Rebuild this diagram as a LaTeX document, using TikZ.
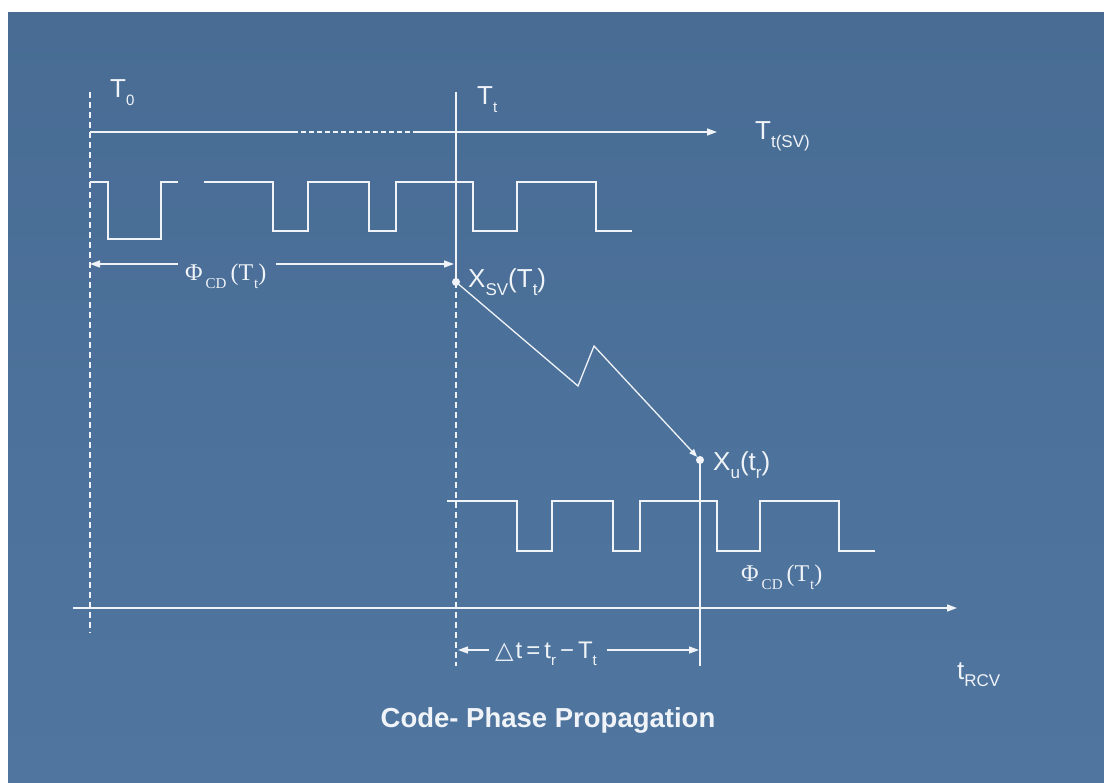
\documentclass[tikz,border=0pt]{standalone}
\usepackage{fontspec}
\setmainfont{Liberation Serif}
\setsansfont{Liberation Sans}
\newfontfamily\dejavu{DejaVu Sans}
\usetikzlibrary{arrows.meta}
\definecolor{bgtop}{RGB}{72,108,148}
\definecolor{bgmid}{RGB}{88,127,169}
\definecolor{bgbot}{RGB}{80,118,160}
\definecolor{ink}{RGB}{240,244,248}
\newcommand{\sbs}[1]{\raisebox{-0.3em}{\fontsize{17}{19}\selectfont #1}}
\newcommand{\ssbs}[1]{\raisebox{-0.3em}{\fontsize{15}{17}\selectfont #1}}
\begin{document}
\begin{tikzpicture}[x=1pt,y=-1pt,
  wl/.style={draw=ink,line width=1.3pt},
  dsh/.style={wl,dash pattern=on 6pt off 4pt},
  tip/.style={-{Triangle[length=10pt,width=7pt]}},
  lab/.style={text=ink,inner sep=0pt,font=\sffamily\fontsize{26}{30}\selectfont},
  slab/.style={text=ink,inner sep=0pt,font=\rmfamily\fontsize{24}{28}\selectfont},
  dot/.style={circle,fill=ink,inner sep=0pt,minimum size=8pt}]
\useasboundingbox (0,0) rectangle (1104,783);
\shade[top color=bgtop,middle color=bgmid,bottom color=bgbot] (8,13) rectangle (1104,783);

% coordinates
\coordinate (t0top) at (90,92);
\coordinate (t0bot) at (90,633);
\coordinate (tttop) at (456,92);
\coordinate (ttbot) at (456,666);
\coordinate (xubot) at (700,666);
\coordinate (ax1a) at (90,132);
\coordinate (ax1b) at (293,132);
\coordinate (ax1c) at (418,132);
\coordinate (ax1d) at (717,132);
\coordinate (ax2a) at (73,608);
\coordinate (ax2b) at (957,608);
\coordinate (phiL) at (90,264);
\coordinate (phiR) at (454,264);
\coordinate (dtL) at (458,650);
\coordinate (dtR) at (699,650);
\coordinate (zz1) at (578,386);
\coordinate (zz2) at (594,346);

\node[dot] (xsv) at (456,282) {};
\node[dot] (xu) at (700,460) {};

% vertical lines
\draw[dsh] (t0top) -- (t0bot);
\draw[wl] (tttop) -- (xsv.center);
\draw[dsh] (xsv.center) -- (ttbot);
\draw[wl] (xu.center) -- (xubot);

% top time axis
\draw[wl] (ax1a) -- (ax1b);
\draw[wl,dash pattern=on 5pt off 3pt] (ax1b) -- (ax1c);
\draw[wl,tip] (ax1c) -- (ax1d);

% bottom time axis
\draw[wl,tip] (ax2a) -- (ax2b);

% top code wave
\draw[wl] (90,182) -- (108,182) -- (108,239) -- (161,239) -- (161,182) -- (178,182);
\draw[wl] (204,182) -- (273,182) -- (273,231) -- (308,231) -- (308,182) -- (369,182)
  -- (369,231) -- (396,231) -- (396,182) -- (473,182) -- (473,231) -- (517,231)
  -- (517,182) -- (596,182) -- (596,231) -- (632,231);

% bottom code wave
\draw[wl] (447,501) -- (517,501) -- (517,551) -- (552,551) -- (552,501) -- (613,501)
  -- (613,551) -- (640,551) -- (640,501) -- (717,501) -- (717,551) -- (760,551)
  -- (760,501) -- (839,501) -- (839,551) -- (875,551);

% propagation path
\draw[wl,-{Triangle[length=8pt,width=6pt]}] (xsv.center) -- (zz1) -- (zz2) -- (xu);

% labels
\node[lab,anchor=base west] (lt0) at (110,98) {T\ssbs{0}};
\node[lab,anchor=base west] (ltt) at (477,105) {T\ssbs{t}};
\node[lab,anchor=base west] (ltsv) at (755,140) {T\sbs{t(SV)}};
\node[lab,anchor=base west] (lxsv) at (468,288) {X\sbs{SV}(T\sbs{t})};
\node[lab,anchor=base west] (lxu) at (713,471) {X\sbs{u}(t\sbs{r})};
\node[lab,anchor=base west] (lrcv) at (957,679) {t\sbs{RCV}};

\node[slab,anchor=base west] (phitop) at (185,281) {Φ\hspace{3pt}\ssbs{CD}\hspace{4pt}(T\hspace{1pt}\ssbs{t})};
\path (phitop.west) ++(-7,0) coordinate (phiLa);
\path (phitop.east) ++(9,0) coordinate (phiRa);
\draw[wl,tip] (phiLa |- phiL) -- (phiL);
\draw[wl,tip] (phiRa |- phiR) -- (phiR);

\node[slab,anchor=base west] (phibot) at (741,582) {Φ\hspace{3pt}\ssbs{CD}\hspace{4pt}(T\hspace{1pt}\ssbs{t})};

\node[lab,anchor=base west,font=\sffamily\fontsize{24}{28}\selectfont] (dtlab) at (495,658)
  {{\dejavu △}\hspace{2pt}t\hspace{4pt}=\hspace{4pt}t\ssbs{r}\hspace{4pt}−\hspace{4pt}T\ssbs{t}};
\path (dtlab.west) ++(-6,0) coordinate (dtLa);
\path (dtlab.east) ++(10,0) coordinate (dtRa);
\draw[wl,tip] (dtLa |- dtL) -- (dtL);
\draw[wl,tip] (dtRa |- dtR) -- (dtR);

\node[text=ink,inner sep=0pt,anchor=base,font=\sffamily\bfseries\fontsize{27.5}{32}\selectfont]
  (title) at (548,727) {Code- Phase Propagation};
\end{tikzpicture}
\end{document}
